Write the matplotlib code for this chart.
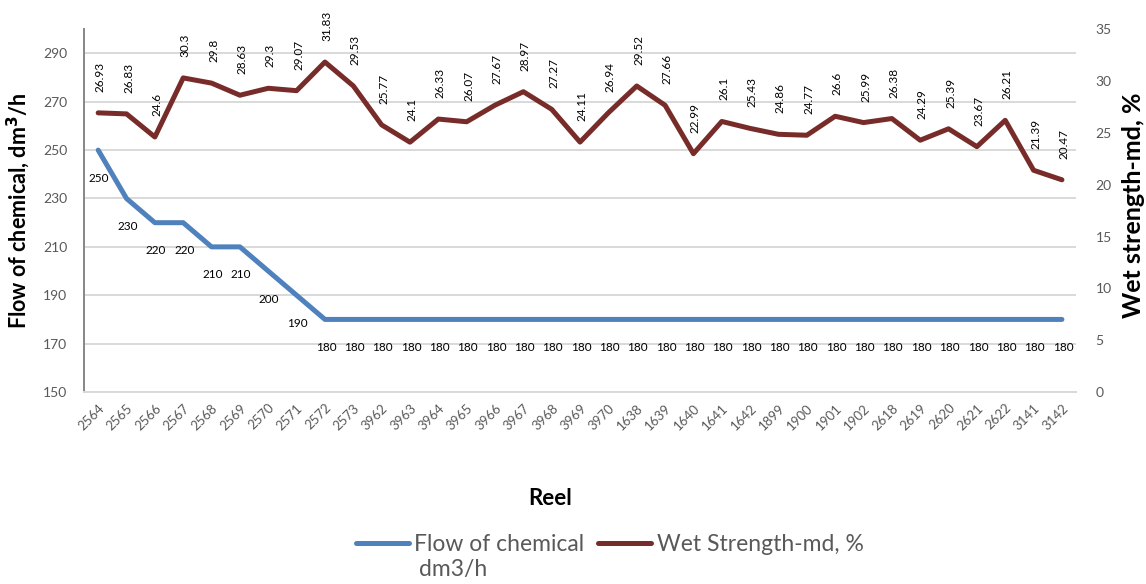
import matplotlib
matplotlib.use("Agg")
import matplotlib.pyplot as plt

reels = ["2564", "2565", "2566", "2567", "2568", "2569", "2570", "2571", "2572", "2573",
         "3962", "3963", "3964", "3965", "3966", "3967", "3968", "3969", "3970", "1638",
         "1639", "1640", "1641", "1642", "1899", "1900", "1901", "1902", "2618", "2619",
         "2620", "2621", "2622", "3141", "3142"]
flow = [250, 230, 220, 220, 210, 210, 200, 190, 180, 180,
        180, 180, 180, 180, 180, 180, 180, 180, 180, 180,
        180, 180, 180, 180, 180, 180, 180, 180, 180, 180,
        180, 180, 180, 180, 180]
wet = [26.93, 26.83, 24.6, 30.3, 29.8, 28.63, 29.3, 29.07, 31.83, 29.53,
       25.77, 24.1, 26.33, 26.07, 27.67, 28.97, 27.27, 24.11, 26.94, 29.52,
       27.66, 22.99, 26.1, 25.43, 24.86, 24.77, 26.6, 25.99, 26.38, 24.29,
       25.39, 23.67, 26.21, 21.39, 20.47]
wet_labels = ["26.93", "26.83", "24.6", "30.3", "29.8", "28.63", "29.3", "29.07", "31.83", "29.53",
              "25.77", "24.1", "26.33", "26.07", "27.67", "28.97", "27.27", "24.11", "26.94", "29.52",
              "27.66", "22.99", "26.1", "25.43", "24.86", "24.77", "26.6", "25.99", "26.38", "24.29",
              "25.39", "23.67", "26.21", "21.39", "20.47"]

plt.rcParams['font.family'] = ['Lato', 'DejaVu Sans']

BLUE = "#4F81BD"
RED = "#772C2A"
GRID = "#D9D9D9"
TICK = "#595959"

fig = plt.figure(figsize=(11.46, 5.84), dpi=100)
ax = fig.add_axes([0.0733, 0.3288, 0.8657, 0.6212])
ax2 = ax.twinx()

x = list(range(len(reels)))
l1, = ax.plot(x, flow, color=BLUE, lw=3.6, solid_capstyle='round', solid_joinstyle='round',
              label="Flow of chemical", zorder=3)
l2, = ax2.plot(x, wet, color=RED, lw=3.6, solid_capstyle='round', solid_joinstyle='round',
               label="Wet Strength-md, %", zorder=3)

for xi, v in zip(x, flow):
    ax.annotate(str(v), (xi, v), xytext=(1, -28), textcoords='offset pixels',
                ha='center', va='center', fontsize=8.5, color='black')
for xi, v, s in zip(x, wet, wet_labels):
    ax2.annotate(s, (xi, v), xytext=(2, 21), textcoords='offset pixels',
                 ha='center', va='bottom', rotation=90, fontsize=8.5, color='black')

ax.set_xlim(-0.5, len(reels) - 0.5)
ax.set_ylim(150, 300)
ax.set_yticks(range(150, 291, 20))
ax2.set_ylim(0, 35)
ax2.set_yticks(range(0, 36, 5))

ax.set_xticks(x)
ax.set_xticklabels(reels, rotation=45, ha='right', rotation_mode='anchor', fontsize=9.5, color=TICK)
ax.tick_params(axis='x', length=0, pad=7)
ax.tick_params(axis='y', length=0, labelsize=10, labelcolor=TICK, pad=12)
ax2.tick_params(axis='y', length=0, labelsize=10, labelcolor=TICK, pad=14)

ax.grid(axis='y', color=GRID, lw=1.4)
ax.set_axisbelow(True)
for s in ['top', 'right']:
    ax.spines[s].set_visible(False)
for s in ['top', 'right', 'left', 'bottom']:
    ax2.spines[s].set_visible(False)
ax.spines['left'].set_color('#868686')
ax.spines['left'].set_linewidth(1.4)
ax.spines['bottom'].set_color(GRID)
ax.spines['bottom'].set_linewidth(1.4)

ax.set_ylabel("Flow of chemical, dm$^\\mathbf{3}$/h", fontsize=15.5, fontweight='bold')
ax.yaxis.set_label_coords(-0.0525, 0.499)
ax2.set_ylabel("Wet strength-md, %", fontsize=18, fontweight='bold')
ax2.yaxis.set_label_coords(1.0464, 0.515)
ax.set_xlabel("Reel", fontsize=16, fontweight='bold')
ax.xaxis.set_label_coords(0.470, -0.264)

leg = fig.legend(handles=[l1, l2], loc='center', bbox_to_anchor=(0.532, 0.067), ncol=2, frameon=False,
                 fontsize=16.5, handlelength=2.3, handletextpad=0.25, columnspacing=0.6,
                 labelcolor=TICK)

fig.canvas.draw()
bb = leg.get_texts()[0].get_window_extent()
fx, fy = fig.transFigure.inverted().transform((bb.x0 + 5, bb.y0 - 4))
fig.text(fx, fy, "dm3/h", fontsize=16.5, color=TICK, ha='left', va='top')

fig.savefig("out.png", dpi=100)
